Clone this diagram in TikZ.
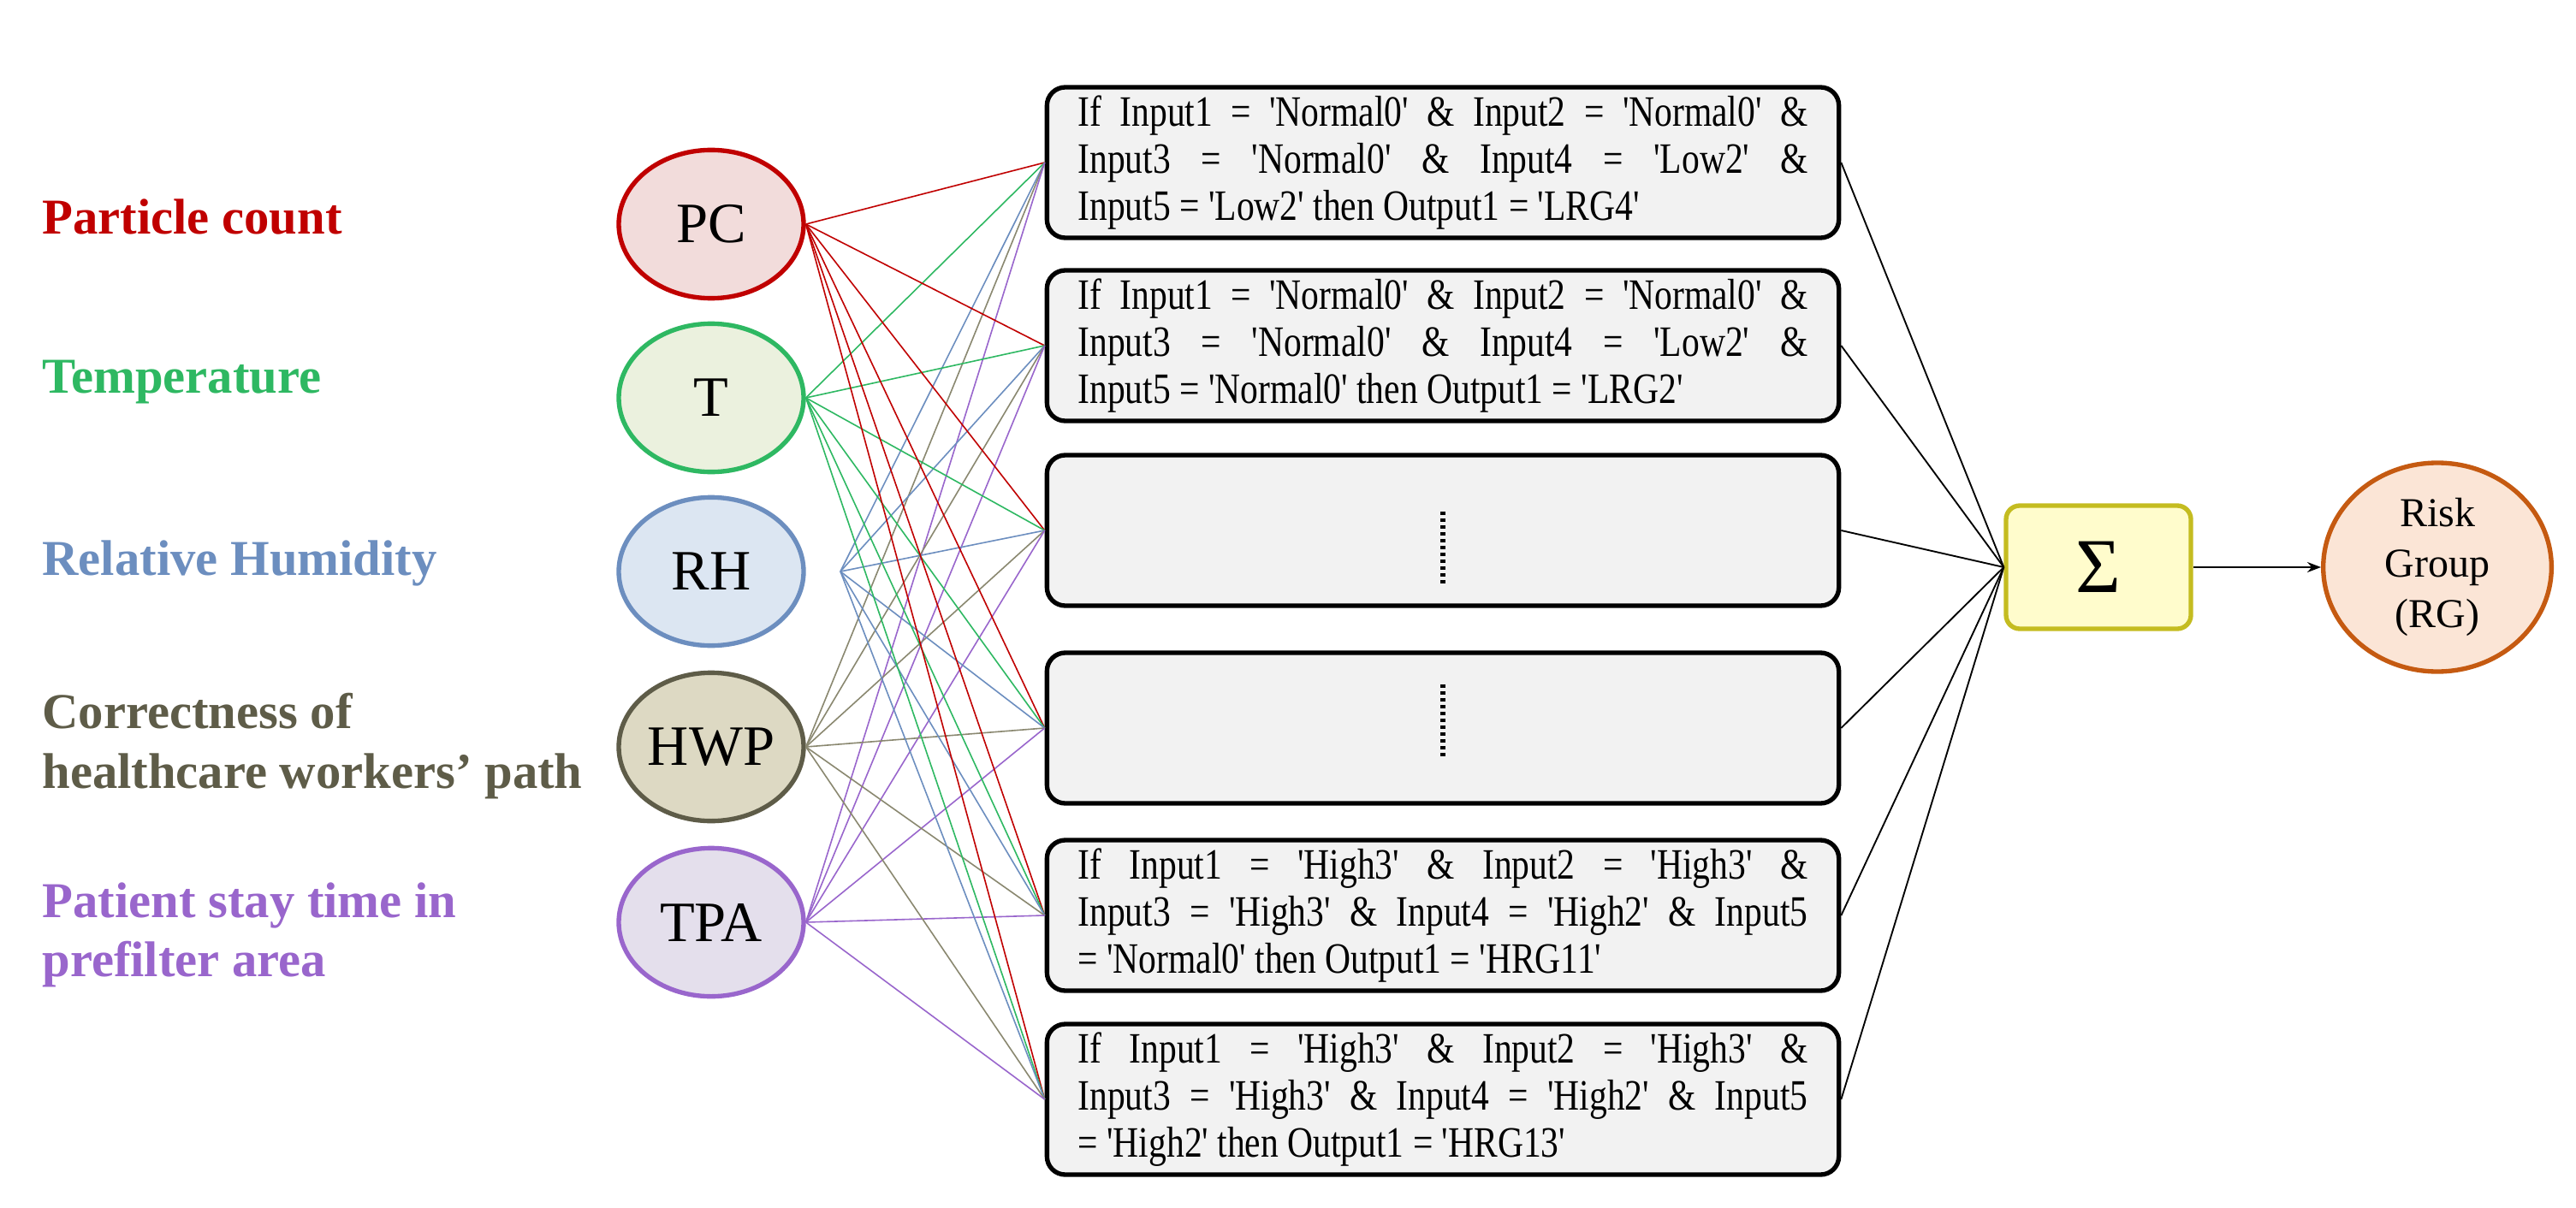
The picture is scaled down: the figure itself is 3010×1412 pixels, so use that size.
\documentclass[tikz,border=0pt]{standalone}
\usepackage{fontspec}
\usepackage{graphicx}
\newfontfamily\tms{Liberation Serif}
\usetikzlibrary{shapes.geometric,arrows.meta}
\definecolor{cPC}{HTML}{C00000}\definecolor{fPC}{HTML}{F2DCDB}
\definecolor{cT}{HTML}{2EB862}\definecolor{fT}{HTML}{EBF1DE}
\definecolor{cRH}{HTML}{6C8EBF}\definecolor{fRH}{HTML}{DCE6F2}
\definecolor{cHW}{HTML}{5E5C48}\definecolor{fHW}{HTML}{DDD9C3}
\definecolor{cTP}{HTML}{9966CC}\definecolor{fTP}{HTML}{E4DFEC}
\definecolor{cHWl}{HTML}{8A8870}
\newcommand{\rjl}[1]{\scalebox{0.82}[1]{\makebox[390pt][s]{#1}}}
\newcommand{\rll}[1]{\scalebox{0.82}[1]{\makebox[390pt][l]{#1}}}
\begin{document}
\begin{tikzpicture}[x=0.375pt,y=-0.375pt,font=\tms,
  inp/.style={ellipse,draw,line width=2pt,minimum width=81pt,minimum height=65pt,inner sep=0pt,font=\tms\fontsize{25}{28}\selectfont},
  lab/.style={anchor=west,align=left,font=\tms\bfseries\fontsize{22}{26}\selectfont},
  rule/.style={draw,line width=2pt,rounded corners=8pt,fill=black!5,minimum width=347pt,minimum height=66pt,inner sep=0pt,align=left,font=\tms\fontsize{19}{20.6}\selectfont},
  cn/.style={line width=0.6pt},
  dts/.style={line width=2pt,dash pattern=on 1.5pt off 1.5pt}]
\useasboundingbox (0,0) rectangle (3010,1412);
\node[lab,text=cPC] (lPC) at (40,254) {Particle count};
\node[lab,text=cT] (lT) at (40,447) {Temperature};
\node[lab,text=cRH] (lRH) at (40,658) {Relative Humidity};
\node[lab,text=cHW] (lHW) at (40,872) {Correctness of\\healthcare workers’ path};
\node[lab,text=cTP] (lTP) at (40,1093) {Patient stay time in\\prefilter area};
\node[inp,draw=cPC,fill=fPC] (PC) at (831,262) {PC};
\node[inp,draw=cT,fill=fT] (T) at (831,465) {T};
\node[inp,draw=cRH,fill=fRH] (RH) at (831,668) {RH};
\node[inp,draw=cHW,fill=fHW] (HWP) at (831,873) {HWP};
\node[inp,draw=cTP,fill=fTP] (TPA) at (831,1078) {TPA};
\coordinate (RHo) at (982,668);
\node[rule] (B1) at (1686,190) {\rjl{If Input1 = 'Normal0' \& Input2 = 'Normal0' \&}\\\rjl{Input3 = 'Normal0' \& Input4 = 'Low2' \&}\\\rll{Input5 = 'Low2' then Output1 = 'LRG4'}};
\node[rule] (B2) at (1686,404) {\rjl{If Input1 = 'Normal0' \& Input2 = 'Normal0' \&}\\\rjl{Input3 = 'Normal0' \& Input4 = 'Low2' \&}\\\rll{Input5 = 'Normal0' then Output1 = 'LRG2'}};
\node[rule] (B3) at (1686,620) {};
\node[rule] (B4) at (1686,851) {};
\node[rule] (B5) at (1686,1070) {\rjl{If Input1 = 'High3' \& Input2 = 'High3' \&}\\\rjl{Input3 = 'High3' \& Input4 = 'High2' \& Input5}\\\rll{= 'Normal0' then Output1 = 'HRG11'}};
\node[rule] (B6) at (1686,1285) {\rjl{If Input1 = 'High3' \& Input2 = 'High3' \&}\\\rjl{Input3 = 'High3' \& Input4 = 'High2' \& Input5}\\\rll{= 'High2' then Output1 = 'HRG13'}};
\coordinate (d3a) at (1686,598);\coordinate (d3b) at (1686,682);
\coordinate (d4a) at (1686,800);\coordinate (d4b) at (1686,884);
\draw[dts] (d3a) -- (d3b);
\draw[dts] (d4a) -- (d4b);
\foreach \b in {B1,B2,B3,B4,B5,B6}{
  \draw[cn,cPC] (PC.east) -- (\b.west);
  \draw[cn,cT] (T.east) -- (\b.west);
  \draw[cn,cRH] (RHo) -- (\b.west);
  \draw[cn,cHWl] (HWP.east) -- (\b.west);
  \draw[cn,cTP] (TPA.east) -- (\b.west);
}
\node[draw=black!20!yellow!80!olive,line width=2pt,fill=yellow!20,rounded corners=6pt,minimum width=81pt,minimum height=54pt,inner sep=0pt,font=\tms\fontsize{34}{36}\selectfont] (S) at (2452,663) {Σ};
\node[ellipse,draw={rgb,255:red,197;green,90;blue,17},fill={rgb,255:red,251;green,229;blue,214},line width=2pt,minimum width=100pt,minimum height=91.5pt,inner sep=0pt,align=center,font=\tms\fontsize{18}{22}\selectfont] (R) at (2848,663) {Risk\\Group\\(RG)};
\foreach \b in {B1,B2,B3,B4,B5,B6}{\draw[line width=0.7pt] (\b.east) -- (S.west);}
\draw[line width=0.8pt,-{Stealth[length=6pt]}] (S.east) -- (R.west);
\end{tikzpicture}
\end{document}
